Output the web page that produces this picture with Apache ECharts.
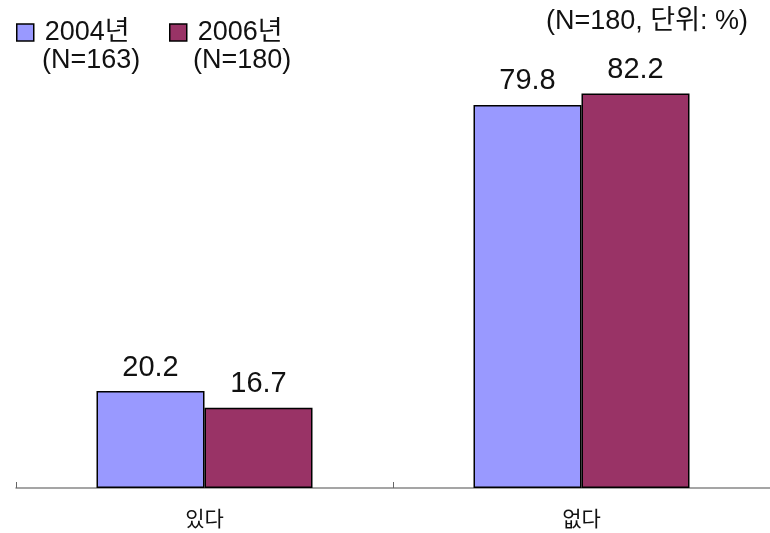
<!DOCTYPE html>
<html><head><meta charset="utf-8">
<script src="https://cdn.jsdelivr.net/npm/echarts@6/dist/echarts.min.js"></script>
<style>html,body{margin:0;padding:0;background:#fff}#c{width:770px;height:533px}</style>
</head><body><div id="c"></div>
<script>
var categories = ['있다', '없다'];
var seriesNames = ['2004년', '2006년'];
var seriesN = ['(N=163)', '(N=180)'];
var values2004 = [20.2, 79.8];
var values2006 = [16.7, 82.2];
var note = '(N=180, 단위: %)';

var FONT = '"Liberation Sans", "Noto Sans CJK KR", sans-serif';
var chart = echarts.init(document.getElementById('c'));
function barSeries(name, data, color) {
  return {
    type: 'bar', name: name, data: data, barWidth: 108, barGap: '0%',
    itemStyle: { color: color, borderColor: '#000', borderWidth: 1.5 },
    label: { show: true, position: 'top', distance: 9, color: '#111', fontSize: 29, fontFamily: FONT,
      formatter: function (p) { return p.value.toFixed(1); } },
    emphasis: { disabled: true }
  };
}
function legendCfg(name, left) {
  return { data: [name], left: left, top: 14, icon: 'rect', itemWidth: 17, itemHeight: 17, itemGap: 0,
    textStyle: { fontSize: 27, fontFamily: FONT, color: '#111', padding: [0, 0, 0, 6] },
    itemStyle: { borderColor: '#000', borderWidth: 1.5 } };
}
chart.setOption({
  animation: false,
  grid: { left: 16, right: 0, top: 8, bottom: 45, containLabel: false },
  legend: [ legendCfg(seriesNames[0], 11), legendCfg(seriesNames[1], 164) ],
  graphic: [
    { type: 'text', left: 42, top: 47, style: { text: seriesN[0], fontSize: 27, fontFamily: FONT, fill: '#111' } },
    { type: 'text', left: 193, top: 47, style: { text: seriesN[1], fontSize: 27, fontFamily: FONT, fill: '#111' } },
    { type: 'text', right: 22, top: 8, style: { text: note, fontSize: 27, fontFamily: FONT, fill: '#111' } }
  ],
  xAxis: {
    type: 'category', data: categories,
    axisLine: { lineStyle: { color: '#888', width: 1.5 } },
    axisTick: { show: true, inside: true, length: 6, lineStyle: { color: '#666' } },
    axisLabel: { fontSize: 21, fontFamily: FONT, color: '#111', margin: 22 }
  },
  yAxis: { type: 'value', min: 0, max: 100, show: false, splitLine: { show: false } },
  series: [ barSeries(seriesNames[0], values2004, '#9999FF'), barSeries(seriesNames[1], values2006, '#993366') ]
});
</script></body></html>
